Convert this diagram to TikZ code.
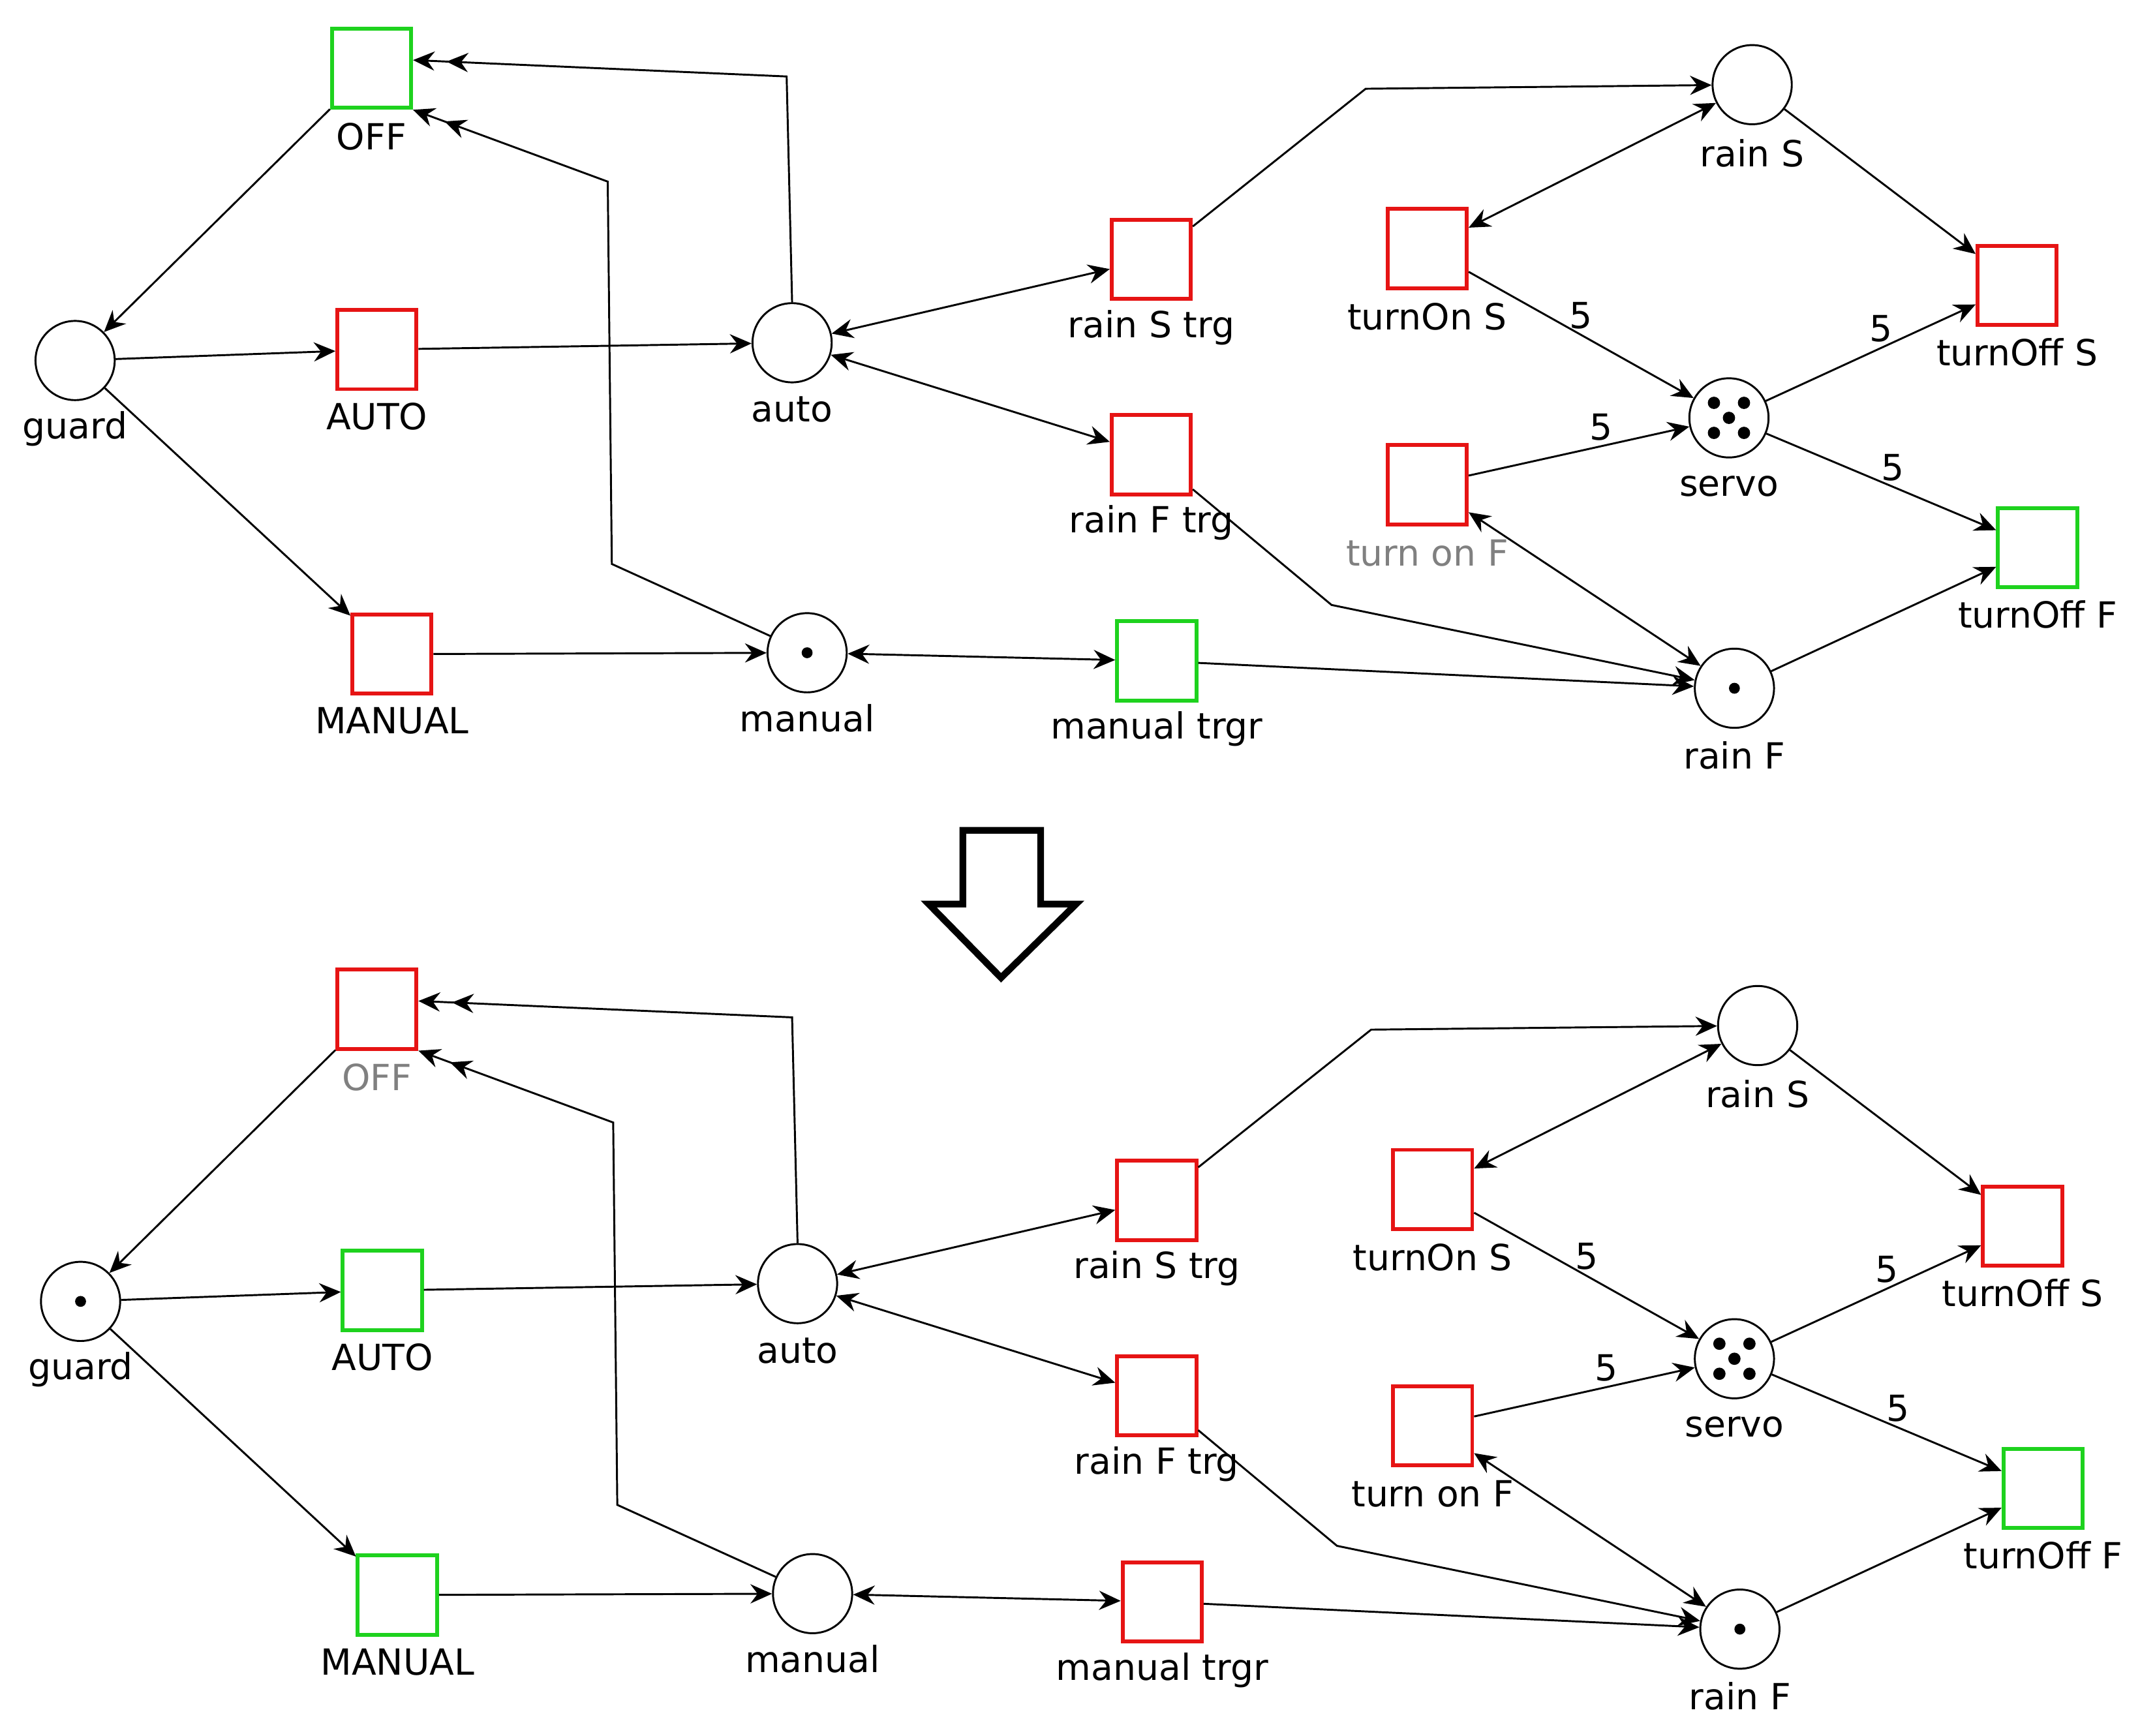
\documentclass[tikz,border=0pt]{standalone}
\usepackage{fontspec}
\setmainfont{DejaVu Sans}
\usetikzlibrary{arrows.meta}
\definecolor{tred}{RGB}{230,20,20}
\definecolor{tgreen}{RGB}{30,210,30}
\tikzset{
 tr/.style={draw=#1,line width=1.6pt,minimum size=1.16cm,inner sep=0pt,fill=white},
 pl/.style={draw,circle,line width=0.8pt,minimum size=1.16cm,inner sep=0pt},
 lb/.style={font=\fontsize{15}{18}\selectfont,inner sep=0pt},
 e/.style={line width=0.8pt,-{Stealth[length=9pt,width=8pt,inset=3pt]}},
 ee/.style={line width=0.8pt,{Stealth[length=9pt,width=8pt,inset=3pt]}-{Stealth[length=9pt,width=8pt,inset=3pt]}},
 e2/.style={line width=0.8pt,-{Stealth[length=9pt,width=8pt,inset=3pt,sep=5pt]Stealth[length=9pt,width=8pt,inset=3pt]}},
 w/.style={font=\fontsize{15}{18}\selectfont,inner sep=2pt},
 tok/.style={fill=black}
}
\newcommand{\mynet}[8]{%
 \node[tr=#1] (OFF) at (272,50) {};
 \node[lb,text=#8] (OFFl) at (272,100) {OFF};
 \node[pl] (guard) at (55,264) {};
 \node[lb] (guardl) at (55,314) {guard};
 \node[tr=#2] (AUTO) at (276,256) {};
 \node[lb] (AUTOl) at (276,305) {AUTO};
 \node[tr=#3] (MANUAL) at (287,479) {};
 \node[lb] (MANUALl) at (287,528) {MANUAL};
 \node[pl] (auto) at (580,251) {};
 \node[lb] (autol) at (580,300) {auto};
 \node[pl] (manual) at (591,478) {};
 \node[lb] (manuall) at (591,526) {manual};
 \node[tr=tred] (rST) at (843,190) {};
 \node[lb] (rSTl) at (843,240) {rain S trg};
 \node[tr=tred] (rFT) at (843,333) {};
 \node[lb] (rFTl) at (843,383) {rain F trg};
 \node[tr=#4] (mT) at (847,484) {};
 \node[lb] (mTl) at (847,534) {manual trgr};
 \node[pl] (rS) at (1283,62) {};
 \node[lb] (rSl) at (1283,112) {rain S};
 \node[tr=tred] (tOnS) at (1045,182) {};
 \node[lb] (tOnSl) at (1045,232) {turnOn S};
 \node[tr=tred] (tOnF) at (1045,355) {};
 \node[lb,text=#7] (tOnFl) at (1045,405) {turn on F};
 \node[pl] (servo) at (1266,306) {};
 \node[lb] (servol) at (1266,356) {servo};
 \node[pl] (rF) at (1270,504) {};
 \node[lb] (rFl) at (1270,553) {rain F};
 \node[tr=tred] (tOffS) at (1477,209) {};
 \node[lb] (tOffSl) at (1477,258) {turnOff S};
 \node[tr=tgreen] (tOffF) at (1492,401) {};
 \node[lb] (tOffFl) at (1492,450) {turnOff F};
 \ifnum#5=1 \fill (guard) circle[radius=0.08cm];\fi
 \ifnum#6=1 \fill (manual) circle[radius=0.08cm];\fi
 \fill (rF) circle[radius=0.08cm];
 \foreach \dx/\dy in {0/0,-11/-11,11/-11,-11/11,11/11} \fill ([shift={(\dx,\dy)}]servo.center) circle[radius=0.09cm];
 \draw[e] (OFF) -- (guard);
 \draw[e] (guard) -- (AUTO);
 \draw[e] (guard) -- (MANUAL);
 \draw[e] (AUTO) -- (auto);
 \draw[e] (MANUAL) -- (manual);
 \draw[e2] (auto.north) -- (576,56) -- (OFF.east |- 0,44);
 \draw[e2] (manual) -- (448,413) -- (445,133) -- (OFF.south east);
 \draw[ee] (auto) -- (rST);
 \draw[ee] (auto) -- (rFT);
 \draw[e] (rST) -- (1000,65) -- (rS);
 \draw[e] (rFT) -- (975,443) -- (rF);
 \draw[ee] (manual) -- (mT);
 \draw[e] (mT) -- (rF);
 \draw[ee] (rS) -- (tOnS);
 \draw[e] (tOnS) -- node[w,pos=0.5,above]{5} (servo);
 \draw[e] (tOnF) -- node[w,pos=0.6,above]{5} (servo);
 \draw[ee] (tOnF) -- (rF);
 \draw[e] (rS) -- (tOffS);
 \draw[e] (servo) -- node[w,pos=0.55,above]{5} (tOffS);
 \draw[e] (servo) -- node[w,pos=0.55,above]{5} (tOffF);
 \draw[e] (rF) -- (tOffF);
}
\begin{document}
\begin{tikzpicture}[x=0.02cm,y=-0.02cm]
\useasboundingbox (0,0) rectangle (1567,1271);
\begin{scope}[name prefix=t]
\mynet{tgreen}{tred}{tred}{tgreen}{0}{1}{gray}{black}
\end{scope}
\begin{scope}[shift={(4,689)},name prefix=b]
\mynet{tred}{tgreen}{tgreen}{tred}{1}{0}{black}{gray}
\end{scope}
\draw[line width=2.8pt,line join=miter] (705,608) -- (762,608) -- (762,662) -- (788,662) -- (733,716) -- (680,662) -- (705,662) -- cycle;
\end{tikzpicture}
\end{document}
